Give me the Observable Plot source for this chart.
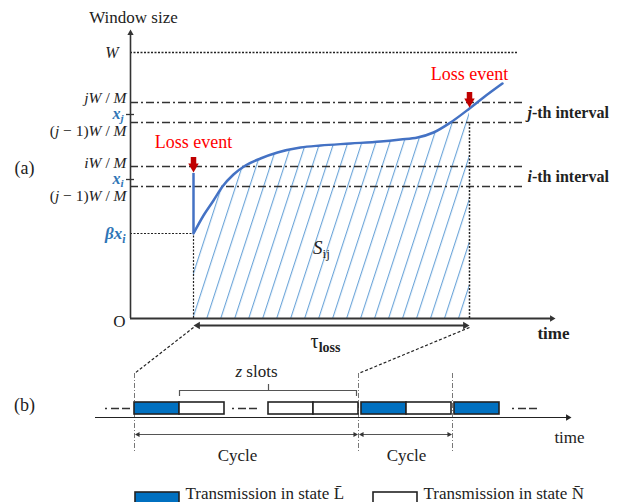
<!DOCTYPE html>
<html>
<head>
<meta charset="utf-8">
<script src="https://cdn.jsdelivr.net/npm/d3@7"></script>
<script src="https://cdn.jsdelivr.net/npm/@observablehq/plot@0.6"></script>
<style>
  body { margin: 0; background: #fff; }
  svg { display: block; }
</style>
</head>
<body>
<div id="chart"></div>
<script>
// ---------- (a) congestion window over time ----------
// Time is counted from the origin O, window size upward from the time axis.
const windowMax = 266;                                   // W
const levelLabels = ["*jW* / *M*", "(*j* − 1)*W* / *M*", "*iW* / *M*", "(*j* − 1)*W* / *M*"];
const levelValues = [216, 196, 152, 132];
const intervalLabels = ["*j*-th interval", "*i*-th interval"];
const intervalBounds = [[196, 216], [132, 152]];
const sampleLabels = ["*x*_{j}", "*x*_{i}"];
const sampleValues = [204, 139];
const betaLabel = "*βx*_{i}";
const betaXi = 85;
const lossTimes = [63, 339];
const lossPeaks = [145, 210];                             // window just before each loss
const lossLabel = "Loss event";
const curveTime   = [63, 73, 83, 92, 103, 115, 130, 147, 170, 190, 220, 250, 270, 287, 303, 320, 339, 353, 372];
const curveWindow = [85, 103, 118, 132, 144, 153, 160, 166, 171, 173, 175, 177, 179, 181, 186, 196, 210, 221, 235];
const timeAxisEnd = 425;
const windowAxisEnd = 289;

// ---------- (b) slot sequence ----------
const slotStart = [4, 49, 138, 183, 231, 276, 324];
const slotState = ["L", "N", "N", "N", "L", "N", "L"];
const slotLength = 45;
const cycleBounds = [4, 228, 322];
const ellipsisStart = [-25, 102, 382];
const stateColor = {L: "#0070c0", N: "#ffffff"};
const legendLabels = ["Transmission in state L\u0304", "Transmission in state N\u0304"];
const legendStates = ["L", "N"];
const legendStart = [5, 243];

// vertical placement of the (b) row below the time axis of (a)
const rowTop = -84, rowBottom = -96, rowAxis = -99, cycleRow = -116;

const serif = "'Liberation Serif', 'Times New Roman', serif";
const ink = "#222";
const curveBlue = "#4472c4";
const labelBlue = "#2e75b6";
const red = "#ff0000";
const darkRed = "#c00000";

const curve = curveTime.map((t, i) => ({t, w: curveWindow[i]}));
const hatched = curve.filter(d => d.t <= lossTimes[1]);
const slots = slotStart.map((s, i) => ({x1: s, x2: s + slotLength, state: slotState[i]}));
const cycles = cycleBounds.slice(1).map((b, i) => ({x1: cycleBounds[i], x2: b}));

// filled triangle arrowhead whose tip lies on (x, y); angle 0 = up
function head(x, y, angle, r, fill) {
  const s = r * Math.sqrt(Math.PI) * 0.6824;
  const rad = angle * Math.PI / 180;
  return Plot.dot([[x, y]], {
    x: d => d[0], y: d => d[1], symbol: "triangle2", r, rotate: angle,
    fill, stroke: "none", dx: -Math.sin(rad) * s, dy: Math.cos(rad) * s
  });
}

const txt = (items, o) => Plot.text(items, {fontFamily: serif, fill: ink, ...o});

const marks = [
  // hatched area S_ij
  Plot.areaY(hatched, {x: "t", y: "w", curve: "monotone-x", fill: "url(#hatch)"}),

  // reference levels
  Plot.ruleY([windowMax], {x1: 0, x2: 388, stroke: ink, strokeWidth: 1.5, strokeDasharray: "2,1.5"}),
  Plot.ruleY(levelValues, {x1: 0, x2: 393, stroke: "#333", strokeWidth: 1.3, strokeDasharray: "8,3,2,3"}),
  Plot.ruleY([betaXi], {x1: 0, x2: lossTimes[0], stroke: ink, strokeWidth: 1.2, strokeDasharray: "2,1.5"}),
  Plot.ruleX([lossTimes[0]], {y1: 0, y2: betaXi, stroke: ink, strokeWidth: 1.2, strokeDasharray: "2,1.5"}),
  Plot.ruleX([lossTimes[1]], {y1: 0, y2: levelValues[1], stroke: ink, strokeWidth: 1.5, strokeDasharray: "2,1.5"}),

  // axes
  Plot.ruleX([0], {y1: 0, y2: windowAxisEnd - 3, stroke: "#333", strokeWidth: 1.6}),
  Plot.ruleY([0], {x1: 0, x2: timeAxisEnd - 3, stroke: "#333", strokeWidth: 1.8}),
  head(0, windowAxisEnd, 0, 3, "#333"),
  head(timeAxisEnd, 0, 90, 3, "#333"),
  Plot.ruleY(sampleValues, {x1: -4, x2: 4, stroke: "#333", strokeWidth: 1.3}),

  // window curve with the drop at the first loss
  Plot.ruleX([lossTimes[0]], {y1: betaXi, y2: lossPeaks[0], stroke: curveBlue, strokeWidth: 2.5}),
  Plot.line(curve, {x: "t", y: "w", curve: "monotone-x", stroke: curveBlue, strokeWidth: 2.5}),

  // loss event markers
  Plot.ruleX(lossTimes, {y1: (d, i) => lossPeaks[i] + 9, y2: (d, i) => lossPeaks[i] + 16, stroke: darkRed, strokeWidth: 5.5}),
  ...lossTimes.map((t, i) => head(t, lossPeaks[i] + 1, 180, 5, darkRed)),
  txt(lossTimes, {x: d => d, y: (d, i) => lossPeaks[i] + (i ? 34 : 31), text: () => lossLabel, fontSize: 18, fill: red}),

  // tau_loss span
  Plot.ruleY([-7], {x1: lossTimes[0] + 3, x2: lossTimes[1] - 3, stroke: "#333", strokeWidth: 2}),
  head(lossTimes[0], -7, -90, 3.5, "#333"),
  head(lossTimes[1], -7, 90, 3.5, "#333"),
  txt(["τ^{loss}"], {x: 195, y: -23, fontSize: 20}),
  txt(["*S*_{ij}"], {x: 191, y: 71, fontSize: 19}),

  // axis and level labels
  txt(["Window size"], {x: 3, y: 301, fontSize: 17}),
  txt(["O"], {x: -5, y: -3, fontSize: 17, textAnchor: "end"}),
  txt(["time"], {x: 423, y: -15, fontSize: 17, fontWeight: "bold"}),
  txt(["*W*"], {x: -12, y: windowMax, fontSize: 16, textAnchor: "end"}),
  ...levelLabels.map((label, i) => txt([label], {x: -4, y: levelValues[i], dy: [-4, 9, -3, 10][i], fontSize: 15.5, textAnchor: "end"})),
  txt(sampleLabels, {x: -7, y: (d, i) => sampleValues[i], dy: -1, fontSize: 16, fontWeight: "bold", fontStyle: "italic", fill: labelBlue, textAnchor: "end"}),
  txt([betaLabel], {x: -5, y: betaXi, fontSize: 17, fontWeight: "bold", fontStyle: "italic", fill: labelBlue, textAnchor: "end"}),
  txt(intervalLabels, {x: 397, y: (d, i) => (intervalBounds[i][0] + intervalBounds[i][1]) / 2, fontSize: 16, fontWeight: "bold", textAnchor: "start"}),
  txt(["(a)", "(b)"], {x: -106, y: (d, i) => [150, -87][i], fontSize: 18}),

  // ---------- (b) ----------
  Plot.link([[lossTimes[0], cycleBounds[0]], [lossTimes[1], cycleBounds[1]]], {
    x1: d => d[0], y1: -9, x2: d => d[1], y2: -55, stroke: ink, strokeWidth: 1.2, strokeDasharray: "3,2"
  }),
  Plot.ruleX(cycleBounds, {y1: -55, y2: -135, stroke: "#777", strokeWidth: 1, strokeDasharray: "5,2,1,2"}),
  Plot.ruleY([rowAxis], {x1: -35, x2: 438, stroke: ink, strokeWidth: 1.2}),
  head(441, rowAxis, 90, 3, ink),
  Plot.rect(slots, {x1: "x1", x2: "x2", y1: rowBottom, y2: rowTop, fill: d => stateColor[d.state], stroke: ink, strokeWidth: 1.6}),
  Plot.ruleY(ellipsisStart, {x1: d => d, x2: d => d + 25, y: rowTop - 6, stroke: "#333", strokeWidth: 1.4, strokeDasharray: "2,4,8,3,8"}),

  // z slots bracket
  Plot.ruleY([-72], {x1: slotStart[1], x2: slotStart[3] + slotLength - 2, stroke: "#555", strokeWidth: 1.2}),
  Plot.ruleX([slotStart[1], slotStart[3] + slotLength - 2], {y1: -78, y2: -72, stroke: "#555", strokeWidth: 1.2}),
  Plot.ruleX([slotStart[2]], {y1: -72, y2: -66, stroke: "#555", strokeWidth: 1.2}),
  txt(["*z* slots"], {x: slotStart[2] - 12, y: -53, fontSize: 17}),

  // cycles
  Plot.ruleY(cycles, {x1: d => d.x1 + 2, x2: d => d.x2 - 2, y: cycleRow, stroke: "#555", strokeWidth: 1.2}),
  ...cycles.flatMap(c => [head(c.x1 + 0.5, cycleRow, -90, 2.5, "#333"), head(c.x2 - 0.5, cycleRow, 90, 2.5, "#333")]),
  txt(["Cycle", "Cycle"], {x: (d, i) => (cycles[i].x1 + cycles[i].x2) / 2 + (i ? 1 : -9), y: -137, fontSize: 17}),
  txt(["time"], {x: 439, y: -119, fontSize: 17}),

  // legend
  Plot.rect(legendStates, {x1: (d, i) => legendStart[i], x2: (d, i) => legendStart[i] + 44, y1: -186, y2: -174, fill: d => stateColor[d], stroke: ink, strokeWidth: 1.6}),
  txt(legendLabels, {x: (d, i) => legendStart[i] + 50, y: -175, fontSize: 17, textAnchor: "start"})
];

const svg = Plot.plot({
  width: 628,
  height: 502,
  margin: 0,
  x: {domain: [-130, 498], range: [0, 628], axis: null},
  y: {domain: [-184, 318], range: [502, 0], axis: null},
  style: {fontFamily: serif, fontSize: "17px", background: "#fff", overflow: "hidden"},
  marks
});

// diagonal hatching used by the S_ij area
const defs = d3.select(svg).insert("defs", ":first-child");
const pattern = defs.append("pattern")
  .attr("id", "hatch")
  .attr("patternUnits", "userSpaceOnUse")
  .attr("width", 13.3)
  .attr("height", 30)
  .attr("patternTransform", "rotate(18)");
pattern.append("line")
  .attr("x1", 2.5).attr("x2", 2.5).attr("y1", -1).attr("y2", 31)
  .attr("stroke", "#5b9bd5").attr("stroke-width", 1);

// light markup in labels: *italic*, _{subscript}, ^{bold subscript}
const svgns = "http://www.w3.org/2000/svg";
d3.select(svg).selectAll("text").each(function () {
  const s = this.textContent;
  if (!/[*_^]/.test(s)) return;
  this.textContent = "";
  const re = /\*([^*]+)\*|_\{([^}]+)\}|\^\{([^}]+)\}|([^*_^]+)/g;
  let m, lowered = false;
  while ((m = re.exec(s))) {
    const t = document.createElementNS(svgns, "tspan");
    if (m[1] != null) {
      t.textContent = m[1];
      t.setAttribute("font-style", "italic");
    } else if (m[2] != null || m[3] != null) {
      t.textContent = m[2] ?? m[3];
      t.setAttribute("font-size", "0.7em");
      t.setAttribute("dy", "0.3em");
      if (m[3] != null) t.setAttribute("font-weight", "bold");
      lowered = true;
    } else {
      t.textContent = m[4];
      if (lowered) { t.setAttribute("dy", "-0.2em"); lowered = false; }
    }
    this.appendChild(t);
  }
});

document.getElementById("chart").appendChild(svg);
</script>
</body>
</html>
